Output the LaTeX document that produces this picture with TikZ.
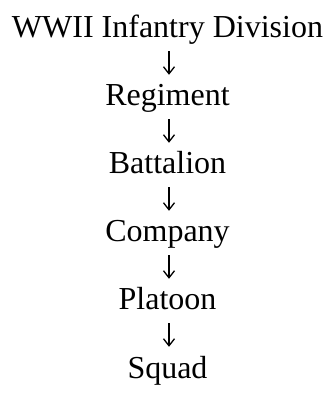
\documentclass[tikz,border=0pt]{standalone}
\usepackage{fontspec}
\setmainfont{Liberation Serif}
\usetikzlibrary{arrows.meta}
\begin{document}
\begin{tikzpicture}[x=1pt,y=1pt,
		level/.style={inner sep=0pt, anchor=base, text height=23pt, text depth=7pt, font=\fontsize{32}{34}\selectfont},
		down/.style={-{Straight Barb[length=7pt,width=11pt]}, line width=1.3pt, shorten <=6pt, shorten >=8pt}]
			\useasboundingbox (0,0) rectangle (327,408);
			\node[level] (div) at (167.5,370) {WWII Infantry Division};
			\node[level] (reg) at (167.5,302) {Regiment};
			\node[level] (bat) at (167.5,234) {Battalion};
			\node[level] (coy) at (167.5,166) {Company};
			\node[level] (plt) at (167.5,98) {Platoon};
			\node[level] (sqd) at (167.5,30) {Squad};
			\draw[down] (div.south -| 169,0) -- (reg.north -| 169,0);
			\draw[down] (reg.south -| 169,0) -- (bat.north -| 169,0);
			\draw[down] (bat.south -| 169,0) -- (coy.north -| 169,0);
			\draw[down] (coy.south -| 169,0) -- (plt.north -| 169,0);
			\draw[down] (plt.south -| 169,0) -- (sqd.north -| 169,0);
		\end{tikzpicture}
\end{document}
